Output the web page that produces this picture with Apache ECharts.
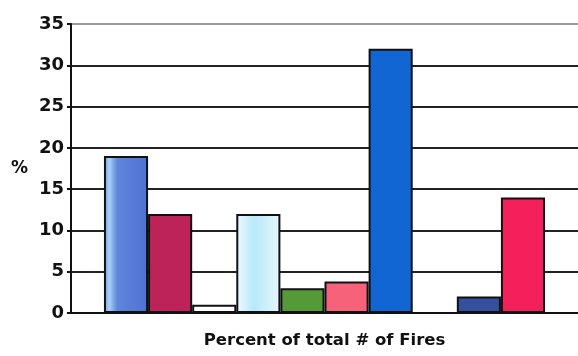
<!DOCTYPE html>
<html>
<head>
<meta charset="utf-8">
<script src="https://cdn.jsdelivr.net/npm/echarts@6/dist/echarts.min.js"></script>
<style>
  html, body { margin: 0; padding: 0; background: #fff; }
  #chart { width: 578px; height: 356px; }
</style>
</head>
<body>
<div id="chart"></div>
<script>
// Share of all fires, one bar per cause group
const category = ['Percent of total # of Fires'];
const values = [19, 12, 1, 12, 3, 3.8, 32, 0, 2, 14];
const yTicks = [0, 5, 10, 15, 20, 25, 30, 35];

const FONT = 'DejaVu Sans, Verdana, sans-serif';

function hGrad(stops) {
  return new echarts.graphic.LinearGradient(0, 0, 1, 0,
    stops.map(function (s) { return { offset: s[0], color: s[1] }; }));
}

const fills = [
  hGrad([[0, '#6f9be8'], [0.12, '#a8d0f8'], [0.3, '#5f86dc'], [1, '#4f70d2']]),
  '#bd2358',
  '#ffffff',
  hGrad([[0, '#eefaff'], [0.4, '#b8e8fa'], [0.7, '#cdf0fb'], [1, '#eaf8fd']]),
  '#559a38',
  '#f6627a',
  '#1266d4',
  '#ffffff',
  '#34509f',
  '#f3205c'
];

const series = values.map(function (v, i) {
  return {
    type: 'bar',
    data: [v],
    barGap: '0%',
    barCategoryGap: '13%',
    itemStyle: { color: fills[i], borderColor: '#111', borderWidth: v > 0 ? 2 : 0 },
    silent: true
  };
});

const chart = echarts.init(document.getElementById('chart'), null, { renderer: 'canvas' });
chart.setOption({
  animation: false,
  backgroundColor: '#fff',
  grid: { left: 71, right: 0, top: 24, bottom: 43, containLabel: false },
  xAxis: {
    type: 'category',
    data: category,
    axisLine: { show: true, lineStyle: { color: '#111', width: 2 } },
    axisTick: { show: false },
    axisLabel: {
      show: true,
      margin: 19,
      color: '#111',
      fontFamily: FONT,
      fontWeight: 'bold',
      fontSize: 16.5
    },
    splitLine: { show: false }
  },
  yAxis: {
    type: 'value',
    min: yTicks[0],
    max: yTicks[yTicks.length - 1],
    interval: 5,
    name: '%',
    nameLocation: 'middle',
    nameRotate: 0,
    nameGap: 43,
    nameTextStyle: {
      color: '#111',
      fontFamily: FONT,
      fontWeight: 'bold',
      fontSize: 17,
      padding: [0, 0, 8, 0]
    },
    axisLine: { show: true, lineStyle: { color: '#111', width: 2 } },
    axisTick: { show: true, length: 4, lineStyle: { color: '#111', width: 2 } },
    axisLabel: {
      color: '#111',
      margin: 7,
      fontFamily: FONT,
      fontWeight: 'bold',
      fontSize: 18
    },
    splitLine: {
      show: true,
      lineStyle: { color: ['#222', '#222', '#222', '#222', '#222', '#222', '#222', '#999'], width: 2 }
    }
  },
  series: series
});
</script>
</body>
</html>
